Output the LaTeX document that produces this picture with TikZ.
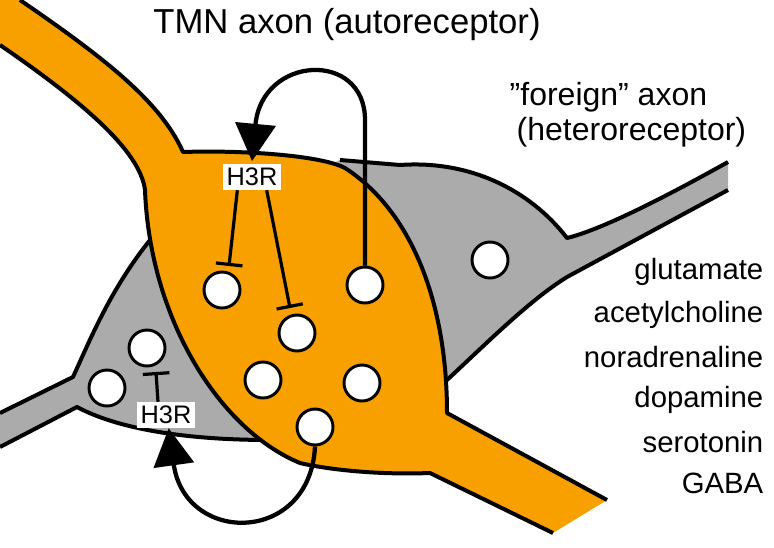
\documentclass[tikz,border=0pt]{standalone}
\usepackage{fontspec}
\setmainfont{Liberation Sans}
\usetikzlibrary{arrows.meta}
\definecolor{tmnorange}{HTML}{F7A000}
\definecolor{axgray}{HTML}{ABABAB}
\tikzset{
  outline/.style={line width=3pt,line join=round},
  vesicle/.style={circle,draw,fill=white,line width=2.2pt,minimum size=27pt,inner sep=0pt},
  rlabel/.style={fill=white,inner sep=3pt,font=\fontsize{19}{21}\selectfont},
  inhib/.style={line width=2.4pt,-{Bar[width=20pt,line width=2.4pt]}},
  loop/.style={line width=3.2pt,-{Triangle[width=30pt,length=28pt]}},
  txt/.style={font=\fontsize{22}{26}\selectfont}
}
\begin{document}
\begin{tikzpicture}[x=0.75pt,y=-0.75pt]
    \useasboundingbox (0,0) rectangle (774,547);
    % Foreign axon (grey)
    \fill[axgray] (728,162) .. controls (660,200) and (600,230) .. (567,238)
      .. controls (530,190) and (470,160) .. (400,165) -- (340,160) -- (145,245)
      .. controls (110,290) and (90,340) .. (73,377) -- (0,413) -- (0,447) -- (77,407)
      .. controls (120,430) and (190,440) .. (270,440) -- (447,380)
      .. controls (490,340) and (530,300) .. (567,277) -- (728,190) -- cycle;
    \draw[outline] (728,162) .. controls (660,200) and (600,230) .. (567,238)
      .. controls (530,190) and (470,160) .. (400,165) -- (340,160);
    \draw[outline] (150,240) .. controls (110,290) and (90,340) .. (73,377) -- (0,413);
    \draw[outline] (0,447) -- (77,407) .. controls (120,430) and (190,440) .. (270,440);
    \draw[outline] (447,380) .. controls (490,340) and (530,300) .. (567,277) -- (728,190);
    % TMN axon (orange)
    \fill[tmnorange] (20,0) .. controls (100,55) and (160,100) .. (183,152)
      .. controls (240,150) and (320,155) .. (345,168)
      .. controls (410,210) and (447,300) .. (447,413) -- (607,500) -- (553,533)
      -- (430,473) .. controls (380,475) and (330,470) .. (300,463)
      .. controls (220,430) and (150,320) .. (145,190)
      .. controls (140,150) and (80,100) .. (0,45) -- (0,0) -- cycle;
    \draw[outline] (20,0) .. controls (100,55) and (160,100) .. (183,152)
      .. controls (240,150) and (320,155) .. (345,168)
      .. controls (410,210) and (447,300) .. (447,413) -- (607,500);
    \draw[outline] (553,533) -- (430,473) .. controls (380,475) and (330,470) .. (300,463)
      .. controls (220,430) and (150,320) .. (145,190)
      .. controls (140,150) and (80,100) .. (0,45);
    % Vesicles
    \node[vesicle] (v1) at (222,290) {};
    \node[vesicle] (v2) at (365,285) {};
    \node[vesicle] (v3) at (297,333) {};
    \node[vesicle] (v4) at (263,380) {};
    \node[vesicle] (v5) at (362,383) {};
    \node[vesicle] (v6) at (315,427) {};
    \node[vesicle] (g1) at (147,348) {};
    \node[vesicle] (g2) at (107,388) {};
    \node[vesicle] (g3) at (490,260) {};
    % Receptors
    \node[rlabel] (autoR) at (252,177) {H3R};
    \node[rlabel] (heteroR) at (166,415) {H3R};
    \coordinate (a1) at ([xshift=-11pt]autoR.south);
    \coordinate (a2) at ([xshift=11pt]autoR.south);
    \coordinate (h1) at ([xshift=-6pt]heteroR.north);
    \draw[inhib] (a1) -- (229,266);
    \draw[inhib] (a2) -- (290,308);
    \draw[inhib] (h1) -- (156,372);
    % Feedback loops
    \draw[loop] (v2.north) -- (365,120) .. controls (365,50) and (262,55) .. ([yshift=2pt]autoR.north);
    \draw[loop] (v6.south) .. controls (310,545) and (185,545) .. ([xshift=2pt]heteroR.south);
    % Labels
    \node[txt,font=\fontsize{26}{30}\selectfont] (tmn) at (347,25) {TMN axon (autoreceptor)};
    \node[txt,font=\fontsize{24}{28}\selectfont,anchor=west] (foreign) at (505,97) {"foreign" axon};
    \node[txt,font=\fontsize{24}{28}\selectfont,anchor=west] (hetero) at (512,132) {(heteroreceptor)};
    \foreach \t/\y in {glutamate/272,acetylcholine/315,noradrenaline/357,dopamine/400,serotonin/442,GABA/483}
      \node[txt,anchor=east] (n\t) at (768,\y) {\t};
\end{tikzpicture}
\end{document}
